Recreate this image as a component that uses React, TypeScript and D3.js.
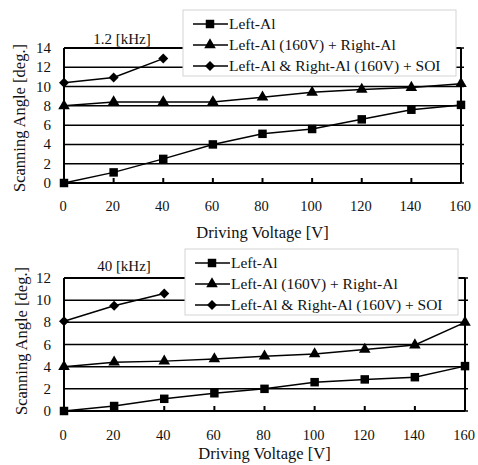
import React from 'react';
import * as d3 from 'd3';

// driving voltage steps [V]
const voltages = [0, 20, 40, 60, 80, 100, 120, 140, 160];
const sweepVoltages = [0, 20, 40];

// 1.2 kHz panel
const lowLeftAl = [0, 1.1, 2.5, 4.0, 5.1, 5.6, 6.6, 7.6, 8.1];
const lowLeftRight = [8.0, 8.4, 8.4, 8.4, 8.9, 9.4, 9.7, 9.9, 10.3];
const lowSoi = [10.4, 10.95, 12.9];
const lowTicks = [0, 2, 4, 6, 8, 10, 12, 14];

// 40 kHz panel
const highLeftAl = [0, 0.45, 1.1, 1.6, 2.0, 2.6, 2.85, 3.05, 4.05];
const highLeftRight = [4.0, 4.4, 4.5, 4.7, 4.95, 5.15, 5.55, 5.95, 8.0];
const highSoi = [8.1, 9.5, 10.6];
const highTicks = [0, 2, 4, 6, 8, 10, 12];

const seriesNames = ['Left-Al', 'Left-Al (160V) + Right-Al', 'Left-Al & Right-Al (160V) + SOI'];
const xTitle = 'Driving Voltage [V]';
const yTitle = 'Scanning Angle [deg.]';

const font = "'Liberation Serif', 'DejaVu Serif', 'Times New Roman', Times, serif";

const squarePath = d3.symbol().type(d3.symbolSquare).size(72)()!;
const trianglePath = d3.symbol().type(d3.symbolTriangle).size(58)()!;
const diamondPath = d3.symbol().type(d3.symbolSquare).size(50)()!;

const Marker = ({ kind, x, y }: { kind: number; x: number; y: number }) => {
  if (kind === 0) return <path d={squarePath} transform={`translate(${x},${y})`} fill="#000" />;
  if (kind === 1) return <path d={trianglePath} transform={`translate(${x},${y})`} fill="#000" />;
  return <path d={diamondPath} transform={`translate(${x},${y}) rotate(45)`} fill="#000" />;
};

type PanelProps = {
  title: string;
  series: number[][];
  ticks: number[];
  yMax: number;
  left: number;
  right: number;
  top: number;
  bottom: number;
  titlePos: [number, number];
  legend: { x: number; y: number; w: number; h: number };
  tickBaseline: number;
  xTitleBaseline: number;
  yTitleX: number;
  yTitleY: number;
};

const Panel = (p: PanelProps) => {
  const x = d3.scaleLinear().domain([0, 160]).range([p.left, p.right]);
  const y = d3.scaleLinear().domain([0, p.yMax]).range([p.bottom, p.top]);
  const line = d3.line<[number, number]>().x(d => x(d[0])).y(d => y(d[1]));
  const pts = p.series.map((vals, i) =>
    vals.map((v, j) => [(i === 2 ? sweepVoltages : voltages)[j], v] as [number, number])
  );
  const lg = p.legend;
  const txt = { fontFamily: font, fill: '#111' };
  return (
    <g>
      {/* grid */}
      {p.ticks.map(t => (
        <line key={t} x1={p.left} x2={p.right + 3} y1={y(t)} y2={y(t)} stroke="#000" strokeWidth={1.5} />
      ))}
      {/* frame */}
      <line x1={p.left} x2={p.left} y1={p.top} y2={p.bottom} stroke="#000" strokeWidth={2} />
      <line x1={p.right} x2={p.right} y1={p.top} y2={p.bottom} stroke="#000" strokeWidth={2} />
      <line x1={p.left} x2={p.right} y1={p.top} y2={p.top} stroke="#000" strokeWidth={2} />
      <line x1={p.left} x2={p.right} y1={p.bottom} y2={p.bottom} stroke="#000" strokeWidth={2} />
      {voltages.map(v => (
        <line key={v} x1={x(v)} x2={x(v)} y1={p.bottom} y2={p.bottom - 5} stroke="#000" strokeWidth={2} />
      ))}
      {/* series */}
      {pts.map((s, i) => (
        <g key={i}>
          <path d={line(s)!} fill="none" stroke="#000" strokeWidth={1.5} />
          {s.map((d, j) => <Marker key={j} kind={i} x={x(d[0])} y={y(d[1])} />)}
        </g>
      ))}
      {/* tick labels */}
      {p.ticks.map(t => (
        <text key={t} x={p.left - 13} y={y(t) + 5} textAnchor="end" fontSize={15} style={txt}>{t}</text>
      ))}
      {voltages.map(v => (
        <text key={v} x={x(v) - 1} y={p.tickBaseline} textAnchor="middle" fontSize={14.5} style={txt}>{v}</text>
      ))}
      <text x={(p.left + p.right) / 2} y={p.xTitleBaseline} textAnchor="middle" fontSize={16.5} style={txt}>{xTitle}</text>
      <text transform={`translate(${p.yTitleX},${p.yTitleY}) rotate(-90)`} textAnchor="middle" fontSize={16.5} style={txt}>{yTitle}</text>
      <text x={p.titlePos[0]} y={p.titlePos[1]} textAnchor="middle" fontSize={15} style={txt}>{p.title}</text>
      {/* legend */}
      <rect x={lg.x} y={lg.y} width={lg.w} height={lg.h} fill="#fff" stroke="#d4d4d4" strokeWidth={1} />
      {seriesNames.map((name, i) => {
        const ry = lg.y + 14 + i * 21;
        return (
          <g key={name}>
            <line x1={lg.x + 10} x2={lg.x + 45} y1={ry} y2={ry} stroke="#000" strokeWidth={1.5} />
            <Marker kind={i} x={lg.x + 27} y={ry} />
            <text x={lg.x + 46} y={ry + 5} fontSize={15.5} style={txt}>{name}</text>
          </g>
        );
      })}
    </g>
  );
};

export default function App() {
  return (
    <svg width={478} height={465} style={{ position: 'absolute', left: 0, top: 0, background: '#fff' }}>
      <Panel
        title="1.2 [kHz]"
        series={[lowLeftAl, lowLeftRight, lowSoi]}
        ticks={lowTicks}
        yMax={14}
        left={64}
        right={461}
        top={48}
        bottom={183}
        titlePos={[122, 44]}
        legend={{ x: 183, y: 10, w: 273, h: 66 }}
        tickBaseline={211}
        xTitleBaseline={238}
        yTitleX={25}
        yTitleY={118}
      />
      <Panel
        title="40 [kHz]"
        series={[highLeftAl, highLeftRight, highSoi]}
        ticks={highTicks}
        yMax={12}
        left={64}
        right={465}
        top={278}
        bottom={411}
        titlePos={[124, 271]}
        legend={{ x: 185, y: 249, w: 273, h: 66 }}
        tickBaseline={440}
        xTitleBaseline={459}
        yTitleX={27}
        yTitleY={341}
      />
    </svg>
  );
}
